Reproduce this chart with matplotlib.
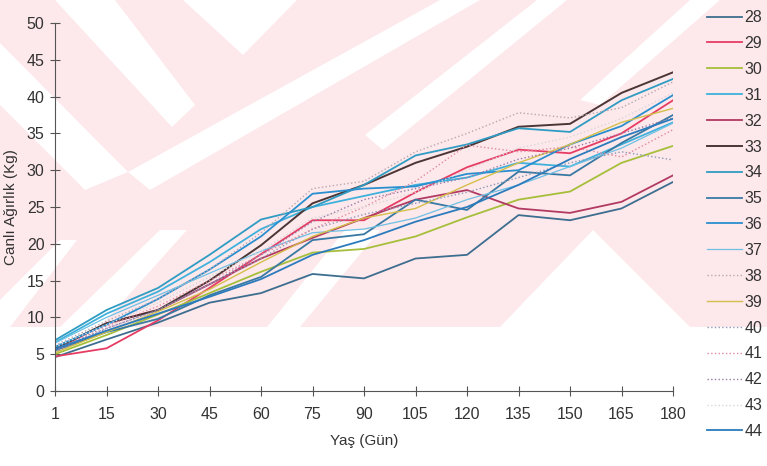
import numpy as np
import matplotlib.pyplot as plt
from matplotlib.patches import Polygon

plt.rcParams["font.family"] = ["Liberation Sans", "DejaVu Sans"]

days = ["1", "15", "30", "45", "60", "75", "90", "105", "120", "135", "150", "165", "180"]

s28 = [4.6, 7.0, 9.3, 12.0, 13.3, 15.9, 15.3, 18.0, 18.5, 23.9, 23.2, 24.8, 28.4]
s29 = [4.7, 5.8, 9.6, 14.0, 18.6, 23.2, 23.2, 27.0, 30.4, 32.8, 32.3, 35.0, 39.5]
s30 = [5.0, 7.6, 10.4, 13.3, 16.2, 18.8, 19.3, 21.0, 23.6, 26.0, 27.1, 31.0, 33.3]
s31 = [6.6, 10.5, 13.5, 17.5, 22.0, 25.0, 26.5, 28.0, 29.0, 31.0, 30.5, 33.5, 36.5]
s32 = [5.6, 9.2, 11.0, 14.5, 18.0, 20.8, 23.5, 26.0, 27.3, 24.8, 24.2, 25.7, 29.3]
s33 = [5.8, 9.2, 11.0, 15.0, 19.8, 25.5, 28.0, 31.0, 33.2, 35.9, 36.3, 40.5, 43.3]
s34 = [6.9, 11.0, 14.0, 18.5, 23.3, 25.0, 28.0, 32.0, 33.5, 35.7, 35.2, 39.5, 42.4]
s35 = [5.5, 8.0, 9.8, 13.0, 15.5, 20.5, 21.3, 26.0, 24.6, 29.8, 29.3, 33.7, 37.5]
s36 = [6.0, 9.0, 12.5, 16.5, 21.0, 26.8, 27.5, 27.8, 29.5, 30.0, 33.5, 36.0, 40.2]
s37 = [6.5, 10.0, 13.0, 16.0, 19.0, 21.5, 22.0, 23.5, 26.0, 28.0, 30.5, 33.0, 36.4]
s38 = [6.2, 9.5, 12.5, 16.5, 21.5, 27.5, 28.5, 32.5, 35.0, 37.8, 37.1, 38.5, 42.0]
s39 = [5.2, 8.0, 10.8, 13.8, 17.5, 21.0, 23.5, 24.8, 28.0, 31.0, 33.5, 36.5, 38.4]
s40 = [5.8, 8.5, 11.0, 14.5, 18.0, 22.0, 24.0, 25.5, 27.0, 29.0, 31.0, 32.5, 31.4]
s41 = [5.5, 8.8, 11.5, 15.0, 18.5, 22.0, 25.0, 28.5, 33.4, 32.5, 33.2, 31.8, 35.5]
s42 = [5.3, 8.5, 11.0, 14.5, 18.5, 23.0, 26.0, 27.5, 29.0, 31.5, 33.0, 35.0, 37.1]
s43 = [6.0, 9.0, 12.0, 15.5, 19.0, 23.5, 25.0, 27.0, 30.0, 33.0, 34.5, 37.0, 40.5]
s44 = [5.7, 8.2, 10.5, 12.8, 15.2, 18.5, 20.5, 23.0, 25.0, 28.0, 31.5, 34.5, 37.0]

series = [
    ("28", s28, "#3d6e8f", "-", 1.3),
    ("29", s29, "#e63c64", "-", 1.3),
    ("30", s30, "#a6bf3a", "-", 1.3),
    ("31", s31, "#3fb1dc", "-", 1.3),
    ("32", s32, "#b23a62", "-", 1.3),
    ("33", s33, "#4b3535", "-", 1.4),
    ("34", s34, "#2f9cc3", "-", 1.3),
    ("35", s35, "#3879a3", "-", 1.3),
    ("36", s36, "#2a8fcf", "-", 1.3),
    ("37", s37, "#6ec0e4", "-", 0.9),
    ("38", s38, "#b8a8b0", ":", 1.0),
    ("39", s39, "#d4bf4a", "-", 1.0),
    ("40", s40, "#8a9ab8", ":", 1.0),
    ("41", s41, "#e08aa0", ":", 1.0),
    ("42", s42, "#9a7aa8", ":", 1.0),
    ("43", s43, "#d8d8d8", ":", 1.0),
    ("44", s44, "#2b7bbd", "-", 1.3),
]

fig = plt.figure(figsize=(7.67, 4.66), dpi=100)

# pale pink watermark of the scanned page, pixel coords (y down)
W, H = 767.0, 466.0


def px(points):
    return [(x / W, 1 - y / H) for x, y in points]


def add_shape(points, color):
    fig.patches.append(Polygon(px(points), closed=True, transform=fig.transFigure,
                               facecolor=color, edgecolor="none", zorder=-5))


add_shape([(0, 0), (767, 0), (767, 327), (0, 327)], "#fde8eb")
white_bits = [
    [(55, 0), (115, 0), (195, 105), (172, 127)],
    [(0, 43), (0, 105), (85, 190), (128, 172)],
    [(183, 0), (297, 0), (243, 55)],
    [(440, 0), (480, 0), (150, 190), (128, 172)],
    [(537, 0), (567, 0), (383, 150), (365, 135)],
    [(0, 300), (0, 327), (10, 327), (77, 240), (60, 240)],
    [(60, 327), (100, 327), (187, 230), (160, 230)],
    [(267, 327), (300, 327), (380, 230), (345, 230)],
    [(593, 230), (690, 327), (500, 327)],
    [(690, 0), (720, 0), (600, 105), (580, 100)],
]
for pts in white_bits:
    add_shape(pts, "white")

ax = fig.add_axes([55 / W, 1 - 391 / H, (673 - 55) / W, (391 - 23) / H])
ax.set_facecolor("none")

x = np.arange(len(days))
for name, vals, color, ls, lw in series:
    ax.plot(x, vals, color=color, linestyle=ls, linewidth=lw, label=name)

ax.set_xlim(0, len(days) - 1)
ax.set_ylim(0, 50)
ax.set_xticks(x)
ax.set_xticklabels(days)
ax.set_yticks(np.arange(0, 51, 5))
for side in ["top", "right"]:
    ax.spines[side].set_visible(False)
for side in ["left", "bottom"]:
    ax.spines[side].set_color("#555555")
    ax.spines[side].set_linewidth(0.8)
ax.tick_params(direction="inout", length=7, width=0.8, color="#555555",
               labelsize=11.5, labelcolor="#333333")
ax.tick_params(axis="y", pad=4)
ax.tick_params(axis="x", pad=8)

ax.set_xlabel("Yaş (Gün)", fontsize=11, color="#333333", labelpad=9)
ax.set_ylabel("Canlı Ağırlık (Kg)", fontsize=11, color="#333333", labelpad=6)

leg = ax.legend(loc="upper left", bbox_to_anchor=(704 / W, 1 - 7 / H),
                bbox_transform=fig.transFigure, frameon=False, fontsize=11.5,
                handlelength=2.2, handletextpad=0.15, labelspacing=0.68,
                borderpad=0.2, borderaxespad=0)
for t in leg.get_texts():
    t.set_color("#333333")

fig.savefig("out.png", dpi=100)
